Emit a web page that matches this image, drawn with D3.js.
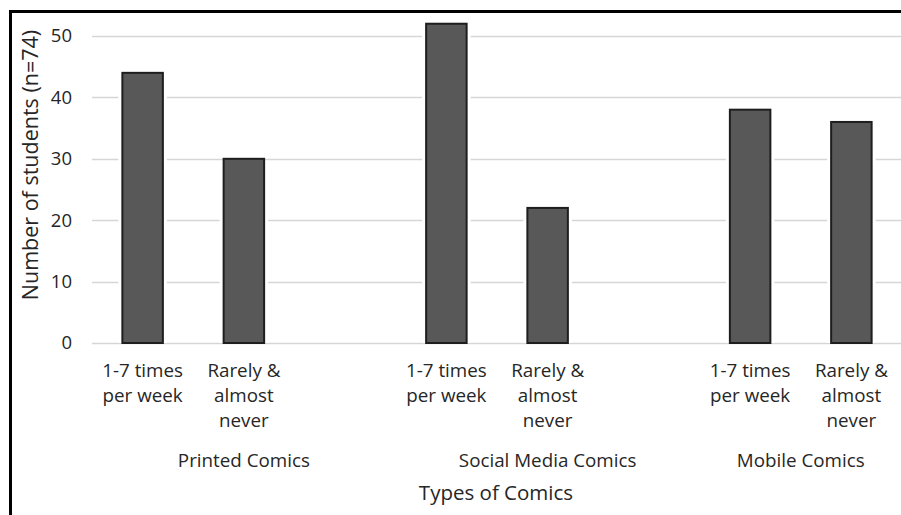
<!DOCTYPE html>
<html>
<head>
<meta charset="utf-8">
<script src="https://cdn.jsdelivr.net/npm/d3@7"></script>
<style>
  html, body { margin: 0; padding: 0; background: #fff; }
  svg { display: block; }
  text { font-family: "Open Sans", Lato, sans-serif; fill: #262626; }
</style>
</head>
<body>
<svg id="chart" width="901" height="515"></svg>
<script>
// Survey results: how often students read each type of comic
const groups = ["Printed Comics", "Social Media Comics", "Mobile Comics"];
const frequencies = ["1-7 times per week", "Rarely & almost never"];
const printedValues = [44, 30];
const socialValues = [52, 22];
const mobileValues = [38, 36];
const yTicks = [0, 10, 20, 30, 40, 50];

// Category slots along the x axis: each group has its two frequency bars
// followed by an empty spacer slot (the last group has no spacer).
const seriesByGroup = [printedValues, socialValues, mobileValues];
const slots = [];
groups.forEach((g, gi) => {
  frequencies.forEach((f, fi) => {
    slots.push({ key: g + "|" + f, group: g, label: f, value: seriesByGroup[gi][fi] });
  });
  if (gi < groups.length - 1) slots.push({ key: g + "|gap", group: g, label: "", value: null });
});

const svg = d3.select("#chart");
const W = 901, H = 515;
const plot = { left: 92, right: 902, top: 36, bottom: 343 };
const FONT = "'Open Sans', Lato, sans-serif";

const x = d3.scaleBand()
  .domain(slots.map(d => d.key))
  .range([plot.left, plot.right])
  .paddingInner(0.6)
  .paddingOuter(0.3);

const y = d3.scaleLinear().domain([0, 50]).range([plot.bottom, plot.top]);

// Frame
svg.append("path")
  .attr("d", `M10.5,${H} L10.5,11.5 L${W},11.5`)
  .attr("fill", "none")
  .attr("stroke", "#000")
  .attr("stroke-width", 3);

// Gridlines
svg.append("g")
  .selectAll("line")
  .data(yTicks)
  .join("line")
  .attr("x1", plot.left)
  .attr("x2", W)
  .attr("y1", d => Math.round(y(d)) + 0.5)
  .attr("y2", d => Math.round(y(d)) + 0.5)
  .attr("stroke", "#d6d6d6")
  .attr("stroke-width", 1.5);

// Y axis tick labels
const yAxis = d3.axisLeft(y).tickValues(yTicks).tickSize(0).tickPadding(0);
const yg = svg.append("g")
  .attr("transform", `translate(72,0)`)
  .call(yAxis);
yg.select(".domain").remove();
yg.selectAll("text")
  .attr("font-size", 18.5)
  .attr("font-family", FONT)
  .attr("fill", "#262626");

// Bars
const bars = slots.filter(d => d.value !== null);
const barG = svg.append("g");
barG.selectAll("rect.halo")
  .data(bars)
  .join("rect")
  .attr("class", "halo")
  .attr("x", d => x(d.key) - 4)
  .attr("width", x.bandwidth() + 8)
  .attr("y", d => y(d.value) + 2)
  .attr("height", d => y(0) - y(d.value) - 2)
  .attr("fill", "#fff");
barG.selectAll("rect.bar")
  .data(bars)
  .join("rect")
  .attr("class", "bar")
  .attr("x", d => x(d.key))
  .attr("width", x.bandwidth())
  .attr("y", d => y(d.value))
  .attr("height", d => y(0) - y(d.value))
  .attr("fill", "#585858")
  .attr("stroke", "#1e1e1e")
  .attr("stroke-width", 2);

// Category labels under each bar (wrapped)
const wrapLines = {
  "1-7 times per week": ["1-7 times", "per week"],
  "Rarely & almost never": ["Rarely &", "almost", "never"]
};
const catG = svg.append("g");
bars.forEach(d => {
  const cx = x(d.key) + x.bandwidth() / 2;
  const t = catG.append("text")
    .attr("text-anchor", "middle")
    .attr("font-size", 18.8)
    .attr("x", cx);
  wrapLines[d.label].forEach((line, i) => {
    t.append("tspan")
      .attr("x", cx)
      .attr("y", 377 + i * 25)
      .text(line);
  });
});

// Group labels centred under each group's slots
groups.forEach(g => {
  const keys = slots.filter(s => s.group === g).map(s => s.key);
  const x0 = x(keys[0]);
  const x1 = x(keys[keys.length - 1]) + x.bandwidth();
  svg.append("text")
    .attr("x", (x0 + x1) / 2)
    .attr("y", 467)
    .attr("text-anchor", "middle")
    .attr("font-size", 18.8)
    .text(g);
});

// Axis titles
svg.append("text")
  .attr("x", 496)
  .attr("y", 500)
  .attr("text-anchor", "middle")
  .attr("font-size", 20.5)
  .text("Types of Comics");

svg.append("text")
  .attr("transform", `translate(38,165) rotate(-90)`)
  .attr("text-anchor", "middle")
  .attr("font-size", 21.5)
  .text("Number of students (n=74)");
</script>
</body>
</html>
